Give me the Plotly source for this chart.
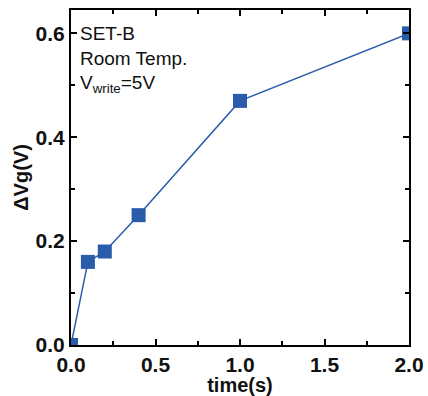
import plotly.graph_objects as go

time_s = [0.0, 0.1, 0.2, 0.4, 1.0, 2.0]
delta_vg = [0.0, 0.16, 0.18, 0.25, 0.47, 0.6]

blue = "#2b5cab"
font_family = "Liberation Sans, Arial, sans-serif"

fig = go.Figure()
fig.add_trace(go.Scatter(
    x=time_s, y=delta_vg, mode="lines+markers",
    line=dict(color=blue, width=1.5),
    marker=dict(symbol="square", size=14, color=blue),
    cliponaxis=True, showlegend=False,
))

axis_common = dict(
    showline=True, linecolor="black", linewidth=2, mirror="ticks",
    ticks="inside", ticklen=6, tickwidth=1.5, tickcolor="black",
    showgrid=False, zeroline=False, automargin=False,
    tickfont=dict(family=font_family, size=21, color="#111", weight="bold"),
)

fig.update_xaxes(
    range=[0, 2], tickvals=[0, 0.5, 1.0, 1.5, 2.0],
    ticktext=["0.0", "0.5", "1.0", "1.5", "2.0"],
    minor=dict(tickvals=[0.25, 0.75, 1.25, 1.75], ticks="inside", ticklen=4, tickcolor="black", tickwidth=1.5),
    title=dict(text="<b>time(s)</b>", font=dict(family=font_family, size=20, color="#111"), standoff=0),
    **axis_common,
)
fig.update_yaxes(
    range=[0, 0.645], tickvals=[0, 0.2, 0.4, 0.6],
    ticktext=["0.0", "0.2", "0.4", "0.6"],
    minor=dict(tickvals=[0.1, 0.3, 0.5], ticks="inside", ticklen=4, tickcolor="black", tickwidth=1.5),
    title=dict(text="<b>ΔVg(V)</b>", font=dict(family=font_family, size=20, color="#111"), standoff=2),
    **axis_common,
)

ann_font = dict(family=font_family, size=19, color="#111")
ann_y = [0.6, 0.552, 0.503]
for txt, yy in zip(["SET-B", "Room Temp.", "V<sub>write</sub>=5V"], ann_y):
    fig.add_annotation(
        x=0.04, y=yy, xref="x", yref="y", text=txt,
        showarrow=False, xanchor="left", yanchor="middle", font=ann_font,
    )

fig.update_layout(
    width=428, height=396,
    margin=dict(l=71, r=19, t=10, b=51),
    paper_bgcolor="white", plot_bgcolor="white",
)

fig.write_html("out.html")
